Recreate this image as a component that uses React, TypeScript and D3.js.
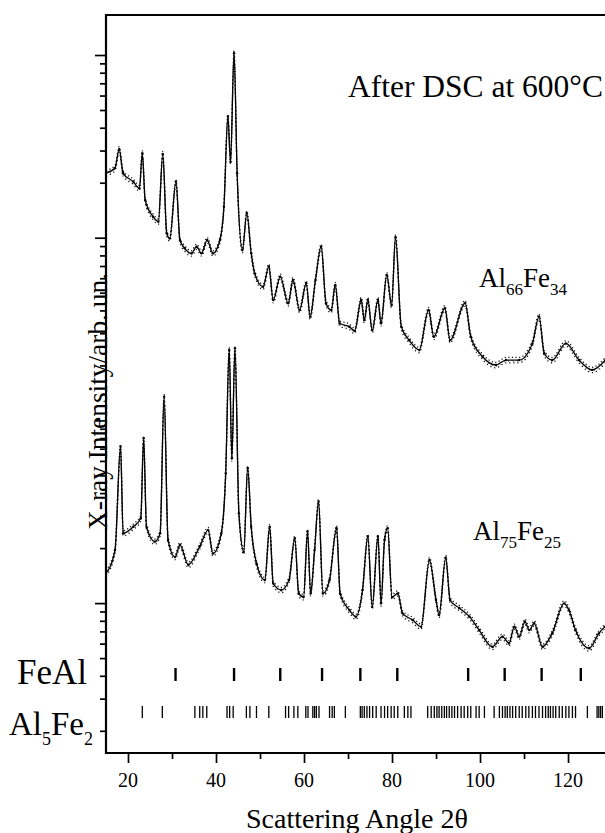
import React, { useRef, useEffect } from "react";
import { select, scaleLinear, scaleLog, axisBottom, axisLeft, line, curveMonotoneX } from "d3";

// Al66Fe34 pattern (2theta, counts)
const angleA = [15, 17.05, 18.0, 18.9, 21.2, 22.6, 23.25, 23.9, 25.7, 26.9, 27.9, 28.8, 29.5, 30.9, 31.8, 32.9, 34.4, 35.6, 36.7, 38.0, 39.3, 40.9, 41.8, 42.7, 43.3, 44.1, 44.8, 46.0, 47.0, 48.0, 48.8, 50.7, 52.0, 53.0, 54.6, 56.4, 57.5, 59.0, 60.5, 61.4, 62.6, 63.9, 65.0, 66.2, 67.1, 68.1, 70.3, 71.5, 73.0, 73.7, 74.5, 75.5, 76.8, 77.5, 78.8, 79.9, 80.8, 82.1, 83.9, 86.2, 88.3, 89.5, 92.0, 93.2, 96.6, 97.9, 100.6, 103.6, 105.9, 108.9, 111.9, 113.4, 114.6, 116.4, 119.5, 122.5, 125.5, 128.5];
const intensityA = [2259, 2407, 3047, 2252, 2025, 1864, 2897, 1608, 1303, 1224, 2872, 1057, 992, 2025, 971, 875, 821, 893, 821, 971, 821, 971, 1478, 4595, 2606, 10217, 2252, 856, 1360, 821, 638, 539, 694, 456, 612, 438, 587, 402, 563, 370, 587, 893, 438, 402, 551, 340, 326, 309, 456, 354, 456, 312, 456, 340, 625, 428, 1005, 326, 275, 243, 402, 287, 411, 275, 438, 287, 223, 201, 214, 214, 264, 370, 233, 214, 264, 214, 189, 214];

// Al75Fe25 pattern (2theta, counts)
const angleB = [15, 17.05, 18.3, 18.9, 21.2, 22.9, 23.55, 24.2, 26.1, 27.3, 28.2, 29.1, 30.7, 31.8, 33.7, 36.3, 38.2, 39.3, 41.2, 42.2, 43.0, 43.6, 44.3, 45.2, 46.3, 47.2, 48.0, 49.2, 51.1, 52.2, 53.0, 54.85, 56.6, 57.9, 58.8, 59.9, 60.8, 61.5, 62.4, 63.3, 64.3, 65.8, 67.4, 68.2, 70.3, 71.8, 73.3, 74.5, 75.5, 76.8, 77.5, 78.3, 79.0, 80.0, 81.3, 82.4, 84.7, 86.6, 88.5, 90.0, 90.7, 92.2, 93.2, 95.3, 97.6, 99.8, 102.8, 105.1, 106.6, 107.8, 108.9, 110.2, 111.2, 112.3, 114.2, 116.4, 119.1, 120.2, 121.7, 124.8, 127.0, 128.4];
const intensityB = [14.6, 19.5, 71.8, 24.1, 26.2, 29.1, 79.8, 26.2, 21.7, 24.1, 134.8, 22.2, 17.9, 20.8, 16.2, 20.4, 25.1, 18.7, 24.1, 51.3, 243, 62.0, 248, 31.0, 19.1, 54.7, 26.2, 16.5, 13.4, 26.2, 12.8, 11.8, 13.4, 22.6, 11.3, 10.8, 24.6, 11.3, 19.5, 35.9, 11.3, 13.4, 25.7, 11.3, 9.17, 8.43, 11.8, 23.1, 9.56, 23.1, 9.97, 22.2, 25.7, 10.8, 11.3, 8.79, 8.08, 7.43, 17.2, 10.4, 8.61, 17.7, 10.4, 9.40, 8.43, 7.12, 5.77, 6.55, 6.03, 7.43, 6.55, 7.91, 7.12, 7.75, 5.77, 6.83, 9.97, 9.17, 7.12, 5.66, 6.83, 7.43];

// reference reflections
const feAlPeaks = [30.8, 44.1, 54.6, 64.1, 72.8, 81.2, 97.3, 105.6, 114.0, 122.9];
const al5fe2Peaks = [23.25, 27.8, 35.2, 36.3, 37.0, 37.9, 42.5, 43.1, 43.9, 46.9, 47.7, 49.2, 52.0, 55.8, 56.5, 57.7, 58.6, 60.4, 60.9, 62.0, 62.4, 62.8, 63.4, 65.8, 66.4, 66.9, 69.4, 72.8, 73.2, 73.7, 74.3, 74.9, 75.6, 76.4, 77.5, 78.3, 79.0, 79.8, 80.5, 81.3, 82.8, 83.6, 84.3, 88.1, 88.9, 89.6, 90.2, 90.7, 91.3, 91.9, 92.4, 93.0, 93.6, 94.2, 94.9, 95.7, 96.4, 97.2, 97.9, 99.1, 99.8, 101.0, 103.2, 104.4, 105.1, 105.7, 106.2, 106.8, 107.4, 108.1, 108.9, 109.6, 110.4, 111.1, 111.9, 112.6, 113.4, 114.2, 114.9, 115.5, 116.0, 116.6, 117.2, 118.0, 118.7, 119.5, 120.2, 121.0, 121.7, 124.4, 126.6, 127.0, 127.4, 127.8];

const xMajorTicks = [20, 40, 60, 80, 100, 120];
const xMinorTicks = [30, 50, 70, 90, 110];
const yMajorTicks = [10, 100, 1000, 10000];
const yMinorTicks = [2, 3, 4, 5, 6, 7, 8, 9, 20, 30, 40, 50, 60, 70, 80, 90, 200, 300, 400, 500, 600, 700, 800, 900, 2000, 3000, 4000, 5000, 6000, 7000, 8000, 9000];

const width = 605;
const height = 833;
const margin = { top: 15, left: 106, bottom: 80 };
const font = "'Liberation Serif', 'Times New Roman', serif";

function XrdChart() {
  const svgRef = useRef<SVGSVGElement>(null);

  const xScale = scaleLinear().domain([15, 128.4]).range([margin.left, width]);
  const yScale = scaleLog()
    .domain([Math.pow(10, 0.1795), Math.pow(10, 4.219)])
    .range([height - margin.bottom, margin.top]);

  useEffect(() => {
    const svg = select(svgRef.current);
    const bottom = height - margin.bottom;

    const xMajor = axisBottom(xScale).tickValues(xMajorTicks).tickSize(10).tickFormat(() => "");
    const xMinor = axisBottom(xScale).tickValues(xMinorTicks).tickSize(6).tickFormat(() => "");
    const yMajor = axisLeft(yScale).tickValues(yMajorTicks).tickSize(11).tickFormat(() => "");
    const yMinor = axisLeft(yScale).tickValues(yMinorTicks).tickSize(6).tickFormat(() => "");

    svg.select(".x-major").attr("transform", `translate(0 ${bottom})`).call(xMajor as any);
    svg.select(".x-minor").attr("transform", `translate(0 ${bottom})`).call(xMinor as any);
    svg.select(".y-major").attr("transform", `translate(${margin.left} 0)`).call(yMajor as any);
    svg.select(".y-minor").attr("transform", `translate(${margin.left} 0)`).call(yMinor as any);

    svg.selectAll(".axis path.domain").remove();
    svg.selectAll(".axis line").attr("stroke", "#000").attr("stroke-width", 1.7);
  }, []);

  const pathFor = (xs: number[], ys: number[], dy = 0) =>
    line<number>()
      .x((d, i) => xScale(xs[i]))
      .y((d) => yScale(d) + dy)
      .curve(curveMonotoneX)(ys) as string;

  const patterns = [
    { xs: angleA, ys: intensityA },
    { xs: angleB, ys: intensityB },
  ];

  const bottom = height - margin.bottom;

  return (
    <svg
      ref={svgRef}
      width={width}
      height={height}
      style={{ position: "absolute", left: 0, top: 0, background: "#fff" }}
    >
      <rect width={width} height={height} fill="#fff" />
      <clipPath id="plot-clip">
        <rect x={margin.left} y={margin.top} width={width - margin.left} height={bottom - margin.top} />
      </clipPath>

      <g clipPath="url(#plot-clip)">
        {patterns.map((p, k) => (
          <g key={k}>
            {/* scatter of the measured points around the fit */}
            <path d={pathFor(p.xs, p.ys, -2.6)} fill="none" stroke="#111" strokeWidth={1.3} strokeDasharray="1.2 2.4" />
            <path d={pathFor(p.xs, p.ys, 2.8)} fill="none" stroke="#111" strokeWidth={1.3} strokeDasharray="1.2 2.9" />
            <path d={pathFor(p.xs, p.ys, 1.2)} fill="none" stroke="#222" strokeWidth={1} strokeDasharray="0.8 3.7" />
            <path d={pathFor(p.xs, p.ys)} fill="none" stroke="#000" strokeWidth={1.3} />
            {p.ys.map((v, i) => (
              <circle key={i} cx={xScale(p.xs[i])} cy={yScale(v)} r={1.2} fill="#000" />
            ))}
          </g>
        ))}

        {feAlPeaks.map((t) => (
          <line key={"f" + t} x1={xScale(t)} x2={xScale(t)} y1={668} y2={681} stroke="#000" strokeWidth={2.4} />
        ))}
        {al5fe2Peaks.map((t) => (
          <line key={"a" + t} x1={xScale(t)} x2={xScale(t)} y1={706} y2={718} stroke="#000" strokeWidth={1.3} />
        ))}
      </g>

      <g className="axis x-major" />
      <g className="axis x-minor" />
      <g className="axis y-major" />
      <g className="axis y-minor" />

      {/* frame */}
      <line x1={margin.left} x2={margin.left} y1={margin.top - 1} y2={bottom + 1} stroke="#000" strokeWidth={2.2} />
      <line x1={margin.left} x2={width} y1={margin.top} y2={margin.top} stroke="#000" strokeWidth={2.2} />
      <line x1={margin.left} x2={width} y1={bottom} y2={bottom} stroke="#000" strokeWidth={2.2} />

      {xMajorTicks.map((t) => (
        <text key={t} x={xScale(t)} y={787} textAnchor="middle" fontFamily={font} fontSize={20}>
          {t}
        </text>
      ))}

      <text x={246} y={828} fontFamily={font} fontSize={28}>
        Scattering Angle 2θ
      </text>

      <text
        transform="translate(107 530) rotate(-90)"
        fontFamily={font}
        fontSize={27}
        textLength={257}
        lengthAdjust="spacingAndGlyphs"
      >
        X-ray Intensity/arb. un.
      </text>

      <text x={348} y={97} fontFamily={font} fontSize={31.5}>
        After DSC at 600°C
      </text>

      <text x={479} y={287} fontFamily={font} fontSize={27}>
        Al<tspan fontSize={17} dy={8}>66</tspan>
        <tspan dy={-8}>Fe</tspan>
        <tspan fontSize={17} dy={8}>34</tspan>
      </text>

      <text x={473} y={540} fontFamily={font} fontSize={27}>
        Al<tspan fontSize={17} dy={8}>75</tspan>
        <tspan dy={-8}>Fe</tspan>
        <tspan fontSize={17} dy={8}>25</tspan>
      </text>

      <text x={17} y={684} fontFamily={font} fontSize={35}>
        FeAl
      </text>

      <text x={9} y={735} fontFamily={font} fontSize={33}>
        Al<tspan fontSize={18} dy={10}>5</tspan>
        <tspan dy={-10}>Fe</tspan>
        <tspan fontSize={18} dy={10}>2</tspan>
      </text>
    </svg>
  );
}

export default function App() {
  return <XrdChart />;
}
